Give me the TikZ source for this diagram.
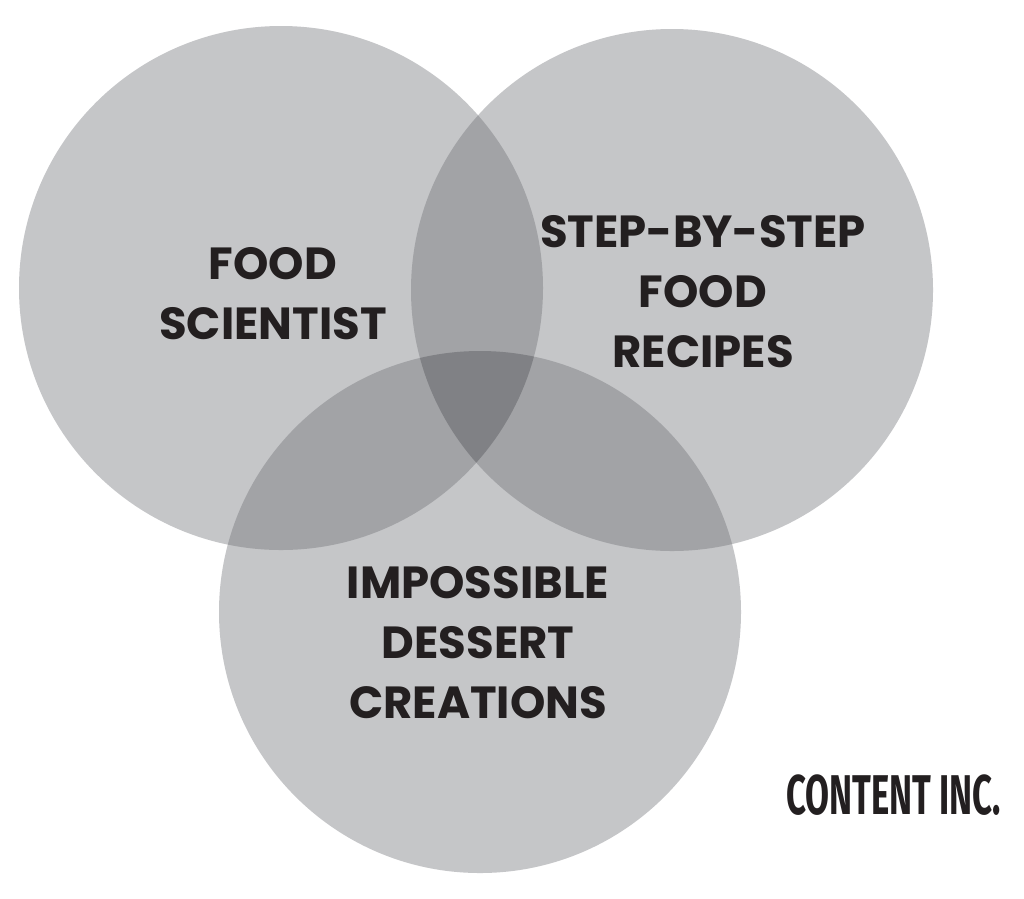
\documentclass[tikz,border=0pt]{standalone}
\usepackage{fontspec}
\newfontfamily\lbl{Poppins}[UprightFont=* Bold]
\newfontfamily\brand{Fira Sans}[UprightFont=* Bold]
\definecolor{one}{HTML}{C5C6C8}
\definecolor{two}{HTML}{A2A3A6}
\definecolor{three}{HTML}{808185}
\definecolor{ink}{HTML}{231F20}
\begin{document}
\begin{tikzpicture}[x=1pt,y=-1pt,
  lbltext/.style={text=ink,font=\lbl\fontsize{45}{60}\selectfont,align=center,inner sep=0pt}]
\useasboundingbox (0,0) rectangle (1024,898);
\fill[white] (0,0) rectangle (1024,898);
\def\cA{(281,288) circle[radius=262]}
\def\cB{(672,290) circle[radius=261]}
\def\cC{(480,612) circle[radius=261]}
\fill[one] \cA; \fill[one] \cB; \fill[one] \cC;
\begin{scope}\clip \cA; \fill[two] \cB; \fill[two] \cC; \end{scope}
\begin{scope}\clip \cB; \fill[two] \cC; \end{scope}
\begin{scope}\clip \cA; \clip \cB; \fill[three] \cC; \end{scope}
\node[lbltext] (fs) at (273,294) {FOOD\\SCIENTIST};
\node[lbltext] (sr) at (703,292) {STEP-BY-STEP\\FOOD\\RECIPES};
\node[lbltext] (ic) at (478,643) {IMPOSSIBLE\\DESSERT\\CREATIONS};
\node[text=ink,inner sep=0pt,anchor=east] (ci) at (1001,795) {\scalebox{0.62}[1]{\brand\fontsize{56}{60}\selectfont CONTENT INC.}};
\end{tikzpicture}
\end{document}
